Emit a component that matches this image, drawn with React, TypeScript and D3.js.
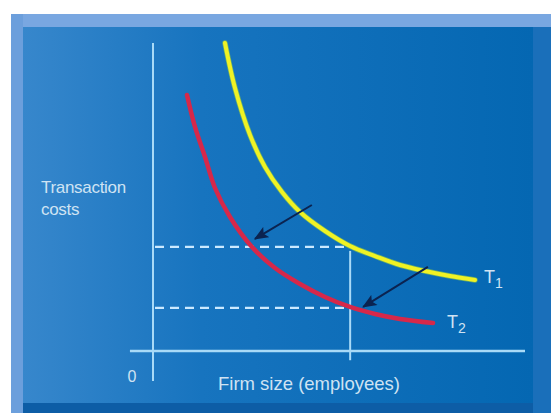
import React from 'react';
import * as d3 from 'd3';

// curve T1 (before) and T2 (after) in 0..100 units
const t1X = [19.35, 22.04, 26.08, 30.11, 34.68, 39.52, 46.24, 52.96, 59.68, 66.4, 73.12, 79.84, 86.56];
const t1Y = [100, 85.39, 70.13, 59.74, 51.62, 45.13, 38.96, 34.09, 30.84, 27.92, 25.97, 24.35, 23.05];
const t2X = [9.14, 11.29, 13.98, 16.67, 20.7, 26.61, 32.8, 39.52, 46.24, 52.96, 59.68, 66.4, 75.27];
const t2Y = [83.12, 72.73, 62.99, 52.92, 43.51, 33.77, 26.95, 21.75, 17.53, 14.29, 12.01, 10.39, 9.09];

// dashed guides and the firm size drop line
const guideLevels = [33.8, 14.0];
const firmSize = 53.0;

// shift arrows [x1, y1, x2, y2]
const arrows = [
  [42.7, 47.4, 27.4, 36.4],
  [73.9, 27.3, 56.5, 14.3],
];

const curveLabels = [
  { name: 'T', sub: '1', x: 89, y: 22 },
  { name: 'T', sub: '2', x: 79, y: 7.5 },
];

const width = 551;
const height = 420;

export default function App() {
  const x = d3.scaleLinear().domain([0, 100]).range([153, 525]);
  const y = d3.scaleLinear().domain([0, 100]).range([351, 43]);

  const line = d3
    .line<[number, number]>()
    .x((d) => x(d[0]))
    .y((d) => y(d[1]))
    .curve(d3.curveCatmullRom.alpha(0.5));

  const t1 = line(t1X.map((v, i) => [v, t1Y[i]]) as [number, number][]) || '';
  const t2 = line(t2X.map((v, i) => [v, t2Y[i]]) as [number, number][]) || '';

  const axisColor = '#a9daf7';
  const textColor = '#cfe3f3';
  const font = '"Liberation Sans", Arial, sans-serif';

  return (
    <svg
      width={width}
      height={height}
      style={{ position: 'absolute', left: 0, top: 0, background: '#fff' }}
    >
      <defs>
        <linearGradient id="panel" x1="0" x2="1" y1="0" y2="0">
          <stop offset="0" stopColor="#3787cc" />
          <stop offset="0.35" stopColor="#1774bf" />
          <stop offset="1" stopColor="#0467b2" />
        </linearGradient>
        <marker
          id="head"
          viewBox="0 0 12 10"
          refX="11"
          refY="5"
          markerWidth="7.5"
          markerHeight="6"
          orient="auto"
        >
          <path d="M0,0 L12,5 L0,10 L2.5,5 z" fill="#0b2350" />
        </marker>
      </defs>

      {/* frame */}
      <rect x={11} y={14} width={540} height={399} fill="#5c94d6" />
      <rect x={11} y={14} width={540} height={13} fill="#79a7e1" />
      <rect x={11} y={14} width={12} height={399} fill="#6c9fdc" />
      <rect x={23} y={27} width={510} height={376} fill="url(#panel)" />
      <rect x={23} y={403} width={528} height={10} fill="#0d5da6" />
      <rect x={533} y={27} width={18} height={386} fill="#1a6fba" />

      {/* guides */}
      {guideLevels.map((g) => (
        <line
          key={g}
          x1={x(0) + 2}
          x2={x(firmSize) - 4}
          y1={y(g)}
          y2={y(g)}
          stroke="#cbe9ff"
          strokeWidth={2.2}
          strokeDasharray="9 6"
        />
      ))}
      <line
        x1={x(firmSize)}
        x2={x(firmSize)}
        y1={y(guideLevels[0]) + 4}
        y2={y(-3)}
        stroke={axisColor}
        strokeWidth={2}
      />

      {/* axes */}
      <line x1={x(0)} x2={x(0)} y1={y(100)} y2={y(-9.7)} stroke={axisColor} strokeWidth={2} />
      <line x1={x(-6.2)} x2={x(100)} y1={y(0)} y2={y(0)} stroke={axisColor} strokeWidth={2.5} />

      {/* curves */}
      <path d={t1} fill="none" stroke="#9fd23a" strokeWidth={5.5} strokeLinecap="round" opacity={0.6} />
      <path d={t1} fill="none" stroke="#f0f224" strokeWidth={4} strokeLinecap="round" />
      <path d={t2} fill="none" stroke="#d6284a" strokeWidth={4.5} strokeLinecap="round" />

      {/* arrows */}
      {arrows.map((a, i) => (
        <line
          key={i}
          x1={x(a[0])}
          y1={y(a[1])}
          x2={x(a[2])}
          y2={y(a[3])}
          stroke="#0b2350"
          strokeWidth={2}
          markerEnd="url(#head)"
        />
      ))}

      {/* labels */}
      <g fill={textColor} fontFamily={font}>
        <text x={41} y={193} fontSize={17} letterSpacing={-0.3}>
          Transaction
        </text>
        <text x={41} y={215} fontSize={17} letterSpacing={-0.3}>
          costs
        </text>
        <text x={132} y={382} fontSize={16} textAnchor="middle">
          0
        </text>
        <text x={218} y={390} fontSize={18.5}>
          Firm size (employees)
        </text>
        {curveLabels.map((l) => (
          <text key={l.sub} x={x(l.x)} y={y(l.y)} fontSize={18}>
            {l.name}
            <tspan fontSize={14} dy={5}>
              {l.sub}
            </tspan>
          </text>
        ))}
      </g>
    </svg>
  );
}
